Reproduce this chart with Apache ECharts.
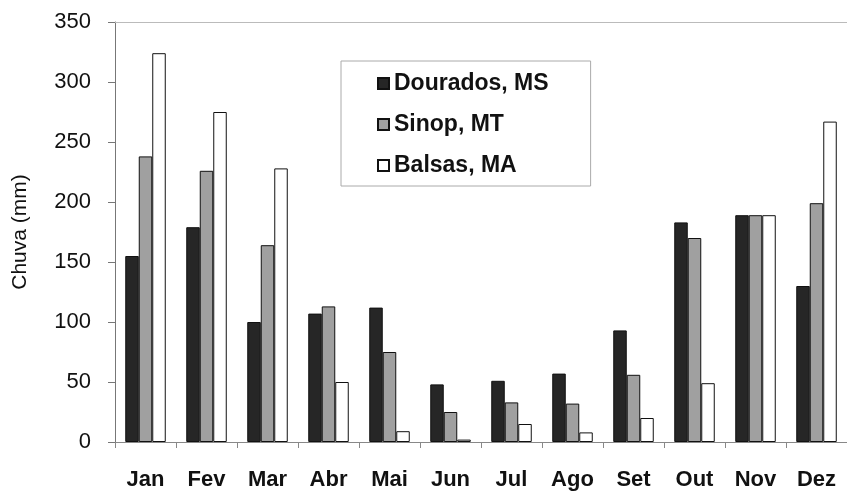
<!DOCTYPE html>
<html>
<head>
<meta charset="utf-8">
<script src="https://cdn.jsdelivr.net/npm/echarts@6/dist/echarts.min.js"></script>
<style>
  html, body { margin: 0; padding: 0; background: #fff; }
  #chart { width: 847px; height: 491px; }
</style>
</head>
<body>
<div id="chart"></div>
<script>
// meses e chuva (mm)
var meses = ['Jan', 'Fev', 'Mar', 'Abr', 'Mai', 'Jun', 'Jul', 'Ago', 'Set', 'Out', 'Nov', 'Dez']
var dourados = [155, 179, 100, 107, 112, 48, 51, 57, 93, 183, 189, 130]
var sinop = [238, 226, 164, 113, 75, 25, 33, 32, 56, 170, 189, 199]
var balsas = [324, 275, 228, 50, 9, 2, 15, 8, 20, 49, 189, 267]
var nomes = ['Dourados, MS', 'Sinop, MT', 'Balsas, MA']

var fonte = '"Liberation Sans", Arial, sans-serif'

var chart = echarts.init(document.getElementById('chart'))

function serie(nome, dados, cor) {
  return {
    name: nome,
    type: 'bar',
    data: dados,
    barWidth: 13.5,
    barGap: '0%',
    itemStyle: {
      color: cor,
      borderColor: '#111',
      borderWidth: 1
    },
    animation: false
  }
}

chart.setOption({
  backgroundColor: '#fff',
  grid: {
    left: 115,
    right: 0,
    top: 22,
    bottom: 49
  },
  legend: {
    orient: 'vertical',
    left: 341,
    top: 61,
    data: nomes,
    icon: 'rect',
    itemWidth: 11,
    itemHeight: 11,
    itemGap: 18,
    padding: [11, 42, 9, 36],
    borderColor: '#aaa',
    borderWidth: 1,
    textStyle: {
      fontFamily: fonte,
      fontSize: 23,
      fontWeight: 'bold',
      color: '#111'
    }
  },
  xAxis: [{
    type: 'category',
    data: meses,
    axisLine: { lineStyle: { color: '#888', width: 1 } },
    axisTick: { show: true, length: 6, lineStyle: { color: '#888' } },
    axisLabel: {
      margin: 27,
      fontFamily: fonte,
      fontSize: 22,
      fontWeight: 'bold',
      color: '#111'
    }
  }, {
    type: 'category',
    data: meses,
    position: 'top',
    axisLine: { show: true, lineStyle: { color: '#bbb', width: 1 } },
    axisTick: { show: false },
    axisLabel: { show: false }
  }],
  yAxis: {
    type: 'value',
    min: 0,
    max: 350,
    interval: 50,
    name: 'Chuva (mm)',
    nameLocation: 'middle',
    nameGap: 84,
    nameTextStyle: {
      fontFamily: fonte,
      fontSize: 21,
      color: '#111'
    },
    axisLine: { show: true, lineStyle: { color: '#777', width: 1 } },
    axisTick: { show: true, length: 7, lineStyle: { color: '#777' } },
    splitLine: { show: false },
    axisLabel: {
      margin: 24,
      fontFamily: fonte,
      fontSize: 22,
      color: '#111'
    }
  },
  series: [
    serie(nomes[0], dourados, '#262626'),
    serie(nomes[1], sinop, '#a0a0a0'),
    serie(nomes[2], balsas, '#ffffff')
  ]
})
</script>
</body>
</html>
